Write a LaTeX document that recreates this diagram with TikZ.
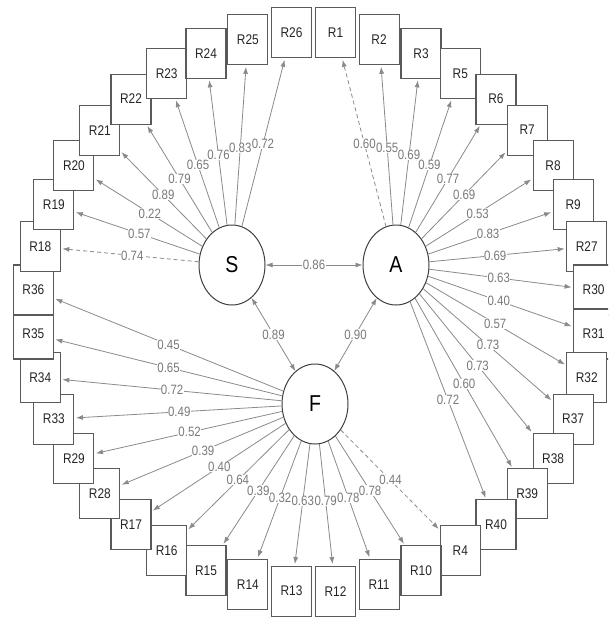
\documentclass[tikz,border=0pt]{standalone}
\usepackage{fontspec}
\newfontfamily\dgfont{Liberation Sans}[FakeStretch=0.85]
\usetikzlibrary{shapes.geometric,arrows.meta,calc}
\definecolor{edgegray}{HTML}{8A8A8A}
\definecolor{labgray}{HTML}{7A7A7A}
\definecolor{boxgray}{HTML}{5A5A5A}
\begin{document}
\begin{tikzpicture}[x=1pt,y=-1pt,
  ind/.style={draw=boxgray, line width=1.1pt, fill=white, minimum width=40pt, minimum height=50pt, inner sep=0pt, font=\dgfont\fontsize{14}{14}\selectfont, text=black!85},
  lat/.style={ellipse, draw=black!75, line width=1pt, fill=white, minimum width=66pt, minimum height=80pt, inner sep=0pt, font=\dgfont\fontsize{23}{23}\selectfont},
  load/.style={draw=edgegray, line width=0.8pt, -{Latex[length=7pt,width=5pt]}, shorten >=1.5pt},
  fixed/.style={load, dash pattern=on 4pt off 3pt},
  cov/.style={draw=edgegray, line width=0.8pt, {Latex[length=7pt,width=5pt]}-{Latex[length=7pt,width=5pt]}},
  wlab/.style={fill=white, inner sep=0.4pt, text=labgray, font=\dgfont\fontsize{13.5}{13.5}\selectfont}
]
\useasboundingbox (0,0) rectangle (608,618);
\clip (0,0) rectangle (608,618);
\fill[white] (0,0) rectangle (608,618);

% indicator boxes, clockwise from the top
\foreach \nm [count=\i from 0] in {R1,R2,R3,R5,R6,R7,R8,R9,R27,R30,R31,R32,R37,R38,R39,R40,R4,R10,R11,R12,R13,R14,R15,R16,R17,R28,R29,R33,R34,R35,R36,R18,R19,R20,R21,R22,R23,R24,R25,R26}{
  \pgfmathsetmacro\ang{85.5-9*\i}
  \node[ind] (\nm) at ({313.5+281*cos(\ang)},{312-280*sin(\ang)}) {\nm};
}

% latent variables
\node[lat] (S) at (232,265) {S};
\node[lat] (A) at (396,265) {A};
\node[lat] (F) at (315,404) {F};

% loadings
\foreach \f/\r/\st in {A/R1/fixed,A/R2/load,A/R3/load,A/R5/load,A/R6/load,A/R7/load,A/R8/load,A/R9/load,A/R27/load,A/R30/load,A/R31/load,A/R32/load,A/R37/load,A/R38/load,A/R39/load,A/R40/load,
  F/R4/fixed,F/R10/load,F/R11/load,F/R12/load,F/R13/load,F/R14/load,F/R15/load,F/R16/load,F/R17/load,F/R28/load,F/R29/load,F/R33/load,F/R34/load,F/R35/load,F/R36/load,
  S/R18/fixed,S/R19/load,S/R20/load,S/R21/load,S/R22/load,S/R23/load,S/R24/load,S/R25/load,S/R26/load}{
  \draw[\st] (\f) -- (\r);
}

% covariances
\draw[cov] (S) -- (A);
\draw[cov] (S) -- (F);
\draw[cov] (A) -- (F);

% loading labels
\foreach \f/\r/\v in {A/R1/0.60,A/R2/0.55,A/R3/0.69,A/R5/0.59,A/R6/0.77,A/R7/0.69,A/R8/0.53,A/R9/0.83,A/R27/0.69,A/R30/0.63,A/R31/0.40,A/R32/0.57,A/R37/0.73,A/R38/0.73,A/R39/0.60,A/R40/0.72,
  F/R4/0.44,F/R10/0.78,F/R11/0.78,F/R12/0.79,F/R13/0.63,F/R14/0.32,F/R15/0.39,F/R16/0.64,F/R17/0.40,F/R28/0.39,F/R29/0.52,F/R33/0.49,F/R34/0.72,F/R35/0.65,F/R36/0.45,
  S/R18/0.74,S/R19/0.57,S/R20/0.22,S/R21/0.89,S/R22/0.79,S/R23/0.65,S/R24/0.76,S/R25/0.83,S/R26/0.72}{
  \node[wlab] (l-\r) at ($(\f)!0.52!(\r)$) {\v};
}
\node[wlab] (lSA) at ($(S)!0.5!(A)$) {0.86};
\node[wlab] (lSF) at ($(S)!0.5!(F)$) {0.89};
\node[wlab] (lAF) at ($(A)!0.5!(F)$) {0.90};
\end{tikzpicture}
\end{document}
